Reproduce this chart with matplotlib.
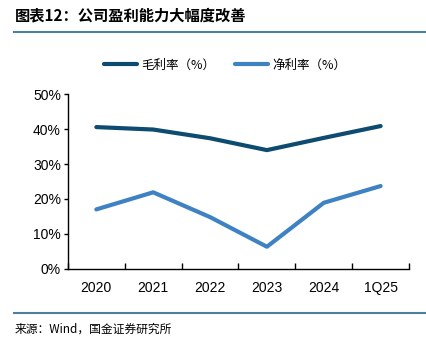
import matplotlib
matplotlib.use("Agg")
from matplotlib import pyplot as plt
from matplotlib.ticker import FuncFormatter, FixedLocator

plt.rcParams['font.family'] = ['Liberation Sans', 'Noto Sans CJK SC', 'DejaVu Sans']

years = ['2020', '2021', '2022', '2023', '2024', '1Q25']
gross_margin = [40.6, 39.9, 37.4, 34.0, 37.5, 40.9]
net_margin = [17.0, 21.9, 14.8, 6.3, 18.9, 23.7]

dark_blue = '#0d4c70'
light_blue = '#3f82c4'
rule_color = '#4a7f9e'

fig = plt.figure(figsize=(4.27, 3.38), dpi=100)
ax = fig.add_axes([0.159, 0.205, 0.799, 0.516])

x = range(len(years))
l1, = ax.plot(x, gross_margin, color=dark_blue, lw=3, solid_capstyle='round', label='毛利率（%）')
l2, = ax.plot(x, net_margin, color=light_blue, lw=3, solid_capstyle='round', label='净利率（%）')

ax.set_xlim(-0.5, len(years) - 0.5)
ax.set_ylim(0, 50)
ax.set_yticks(range(0, 51, 10))
ax.yaxis.set_major_formatter(FuncFormatter(lambda v, _: f'{v:.0f}%'))
ax.set_xticks(list(x))
ax.set_xticklabels(years)
ax.xaxis.set_minor_locator(FixedLocator([i - 0.5 for i in range(len(years) + 1)]))
ax.tick_params(axis='x', which='major', length=0, pad=9, labelsize=10)
ax.tick_params(axis='x', which='minor', direction='in', length=4, width=1)
ax.tick_params(axis='y', direction='out', length=3, width=1, labelsize=10, pad=2)
for s in ['top', 'right']:
    ax.spines[s].set_visible(False)
for s in ['left', 'bottom']:
    ax.spines[s].set_linewidth(1)
    ax.spines[s].set_color('black')

fig.legend(handles=[l1, l2], loc='center', bbox_to_anchor=(0.527, 0.807), ncol=2,
           frameon=False, handlelength=2.6, handletextpad=0.35, columnspacing=1.6,
           prop={'family': ['Noto Sans CJK SC'], 'size': 9})

# title and source line with horizontal rules
fig.text(0.035, 0.953, '图表12：公司盈利能力大幅度改善', fontsize=11, fontweight='bold',
         family=['Noto Sans CJK SC'], va='center', ha='left')
fig.add_artist(plt.Line2D([0.033, 1.0], [0.905, 0.905], color=rule_color, lw=1.5))
fig.add_artist(plt.Line2D([0.033, 1.0], [0.074, 0.074], color=rule_color, lw=1.5))
fig.text(0.035, 0.027, '来源：Wind，国金证券研究所', fontsize=8.5,
         family=['Noto Sans CJK SC', 'Liberation Sans'], va='center', ha='left')

fig.savefig('out.png', dpi=100)
